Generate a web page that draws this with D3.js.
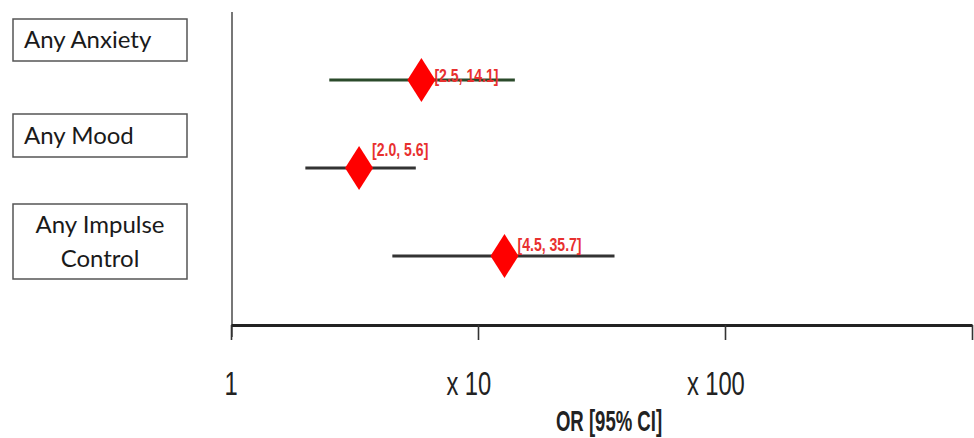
<!DOCTYPE html>
<html>
<head>
<meta charset="utf-8">
<script src="https://cdn.jsdelivr.net/npm/d3@7"></script>
<style>
  html, body { margin: 0; padding: 0; background: #fff; }
  svg { display: block; }
</style>
</head>
<body>
<svg id="chart" width="974" height="438"></svg>
<script>
// data
const categories = ["Any Anxiety", "Any Mood", "Any Impulse Control"];
const boxLines = [["Any Anxiety"], ["Any Mood"], ["Any Impulse", "Control"]];
const oddsRatio = [5.9, 3.3, 12.8];
const ciLow = [2.5, 2.0, 4.5];
const ciHigh = [14.1, 5.6, 35.7];
const ciLabels = ["[2.5, 14.1]", "[2.0, 5.6]", "[4.5, 35.7]"];
const tickValues = [1, 10, 100, 1000];
const tickNumbers = ["1", "10", "100", ""];
const tickPrefix = ["", "x", "x", ""];
const axisTitle = "OR [95% CI]";

// layout
const W = 974, H = 438;
const axisY = 325;
const lineColors = ["#2b4a2b", "#333", "#333"];
const labelDy = [2, -12, -5];
const boxes = [
  { top: 19, h: 42, align: "start" },
  { top: 114, h: 43, align: "start" },
  { top: 204, h: 75, align: "middle" }
];
const boxX = 13, boxW = 174;

const svg = d3.select("#chart");

const x = d3.scaleLog().domain([1, 1000]).range([231, 972]);
const y = d3.scalePoint().domain(categories).range([80, 256]);

// vertical axis line
svg.append("line")
  .attr("x1", 232).attr("x2", 232)
  .attr("y1", 12).attr("y2", 337)
  .attr("stroke", "#555").attr("stroke-width", 1.6);

// x axis
const axis = svg.append("g")
  .attr("transform", `translate(0,${axisY})`)
  .call(d3.axisBottom(x)
    .tickValues(tickValues)
    .tickFormat("")
    .tickSize(15)
    .tickSizeOuter(0));
axis.select(".domain").attr("stroke", "#222").attr("stroke-width", 3.2);
axis.selectAll(".tick line").attr("stroke", "#333").attr("stroke-width", 1.6);

// tick labels (condensed look)
tickValues.forEach((v, i) => {
  if (!tickNumbers[i]) return;
  const g = svg.append("g")
    .attr("transform", `translate(${x(v)},395) scale(0.7,1)`)
    .attr("font-family", "'Liberation Sans', Arial, sans-serif")
    .attr("font-size", 34)
    .attr("fill", "#222");
  const num = g.append("text")
    .attr("text-anchor", "middle")
    .text(tickNumbers[i]);
  if (tickPrefix[i]) {
    const L = num.node().getComputedTextLength();
    g.append("text")
      .attr("text-anchor", "end")
      .attr("x", -L / 2 - 9)
      .text(tickPrefix[i]);
  }
});

// axis title
svg.append("text")
  .attr("transform", "translate(609,431) scale(0.64,1)")
  .attr("text-anchor", "middle")
  .attr("font-family", "'Liberation Sans', Arial, sans-serif")
  .attr("font-weight", "bold")
  .attr("font-size", 29)
  .attr("fill", "#222")
  .text(axisTitle);

// CI lines
svg.selectAll(".ci")
  .data(categories)
  .join("line")
  .attr("class", "ci")
  .attr("x1", (d, i) => x(ciLow[i]))
  .attr("x2", (d, i) => x(ciHigh[i]))
  .attr("y1", d => y(d))
  .attr("y2", d => y(d))
  .attr("stroke", (d, i) => lineColors[i])
  .attr("stroke-width", 3);

// diamonds
const dw = 14, dh = 22;
svg.selectAll(".pt")
  .data(categories)
  .join("path")
  .attr("class", "pt")
  .attr("d", (d, i) => {
    const cx = x(oddsRatio[i]), cy = y(d);
    return `M${cx},${cy - dh}L${cx + dw},${cy}L${cx},${cy + dh}L${cx - dw},${cy}Z`;
  })
  .attr("fill", "#ff0000");

// CI labels
categories.forEach((c, i) => {
  svg.append("text")
    .attr("transform", `translate(${x(oddsRatio[i]) + 13},${y(c) + labelDy[i]}) scale(0.76,1)`)
    .attr("font-family", "'Liberation Sans', Arial, sans-serif")
    .attr("font-weight", "bold")
    .attr("font-size", 18.5)
    .attr("fill", "#e8302f")
    .text(ciLabels[i]);
});

// category boxes
boxes.forEach((b, i) => {
  svg.append("rect")
    .attr("x", boxX).attr("y", b.top)
    .attr("width", boxW).attr("height", b.h)
    .attr("fill", "#fff")
    .attr("stroke", "#555")
    .attr("stroke-width", 1.5);
  const lines = boxLines[i];
  const tx = b.align === "middle" ? boxX + boxW / 2 : boxX + 11;
  const lh = 34;
  const firstBase = b.top + b.h / 2 + 8 - (lines.length - 1) * lh / 2;
  lines.forEach((t, j) => {
    svg.append("text")
      .attr("x", tx)
      .attr("y", firstBase + j * lh)
      .attr("text-anchor", b.align)
      .attr("font-family", "Lato, 'Open Sans', sans-serif")
      .attr("font-size", 24)
      .attr("fill", "#1a1a1a")
      .text(t);
  });
});
</script>
</body>
</html>
